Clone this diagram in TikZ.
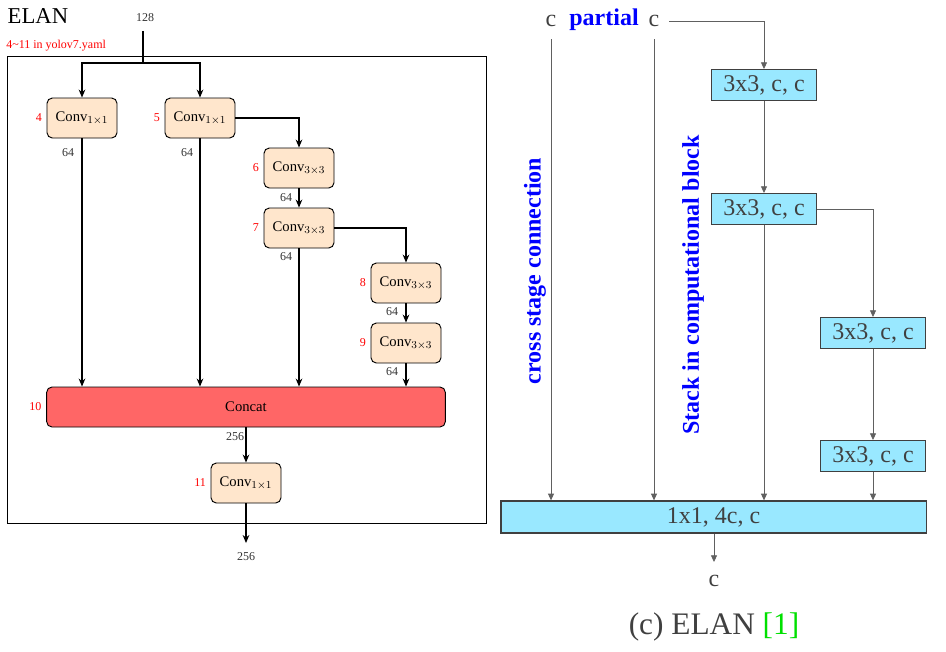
\documentclass[tikz,border=0pt]{standalone}
\usepackage{fontspec}
\setmainfont{Liberation Serif}
\usepackage{xcolor}
\usetikzlibrary{arrows.meta}
\definecolor{peach}{HTML}{FFE6CC}
\definecolor{concatred}{HTML}{FF6666}
\definecolor{cyanbox}{HTML}{99E8FF}
\definecolor{linegray}{HTML}{606060}
\definecolor{capgray}{HTML}{404040}
\definecolor{refgreen}{HTML}{00E000}
\begin{document}
\begin{tikzpicture}
  [x=0.75pt,y=-0.75pt,
   conv/.style={draw,rounded corners=4pt,fill=peach,minimum width=52.5pt,minimum height=30pt,font=\fontsize{11}{13}\selectfont,line width=0.7pt},
   lay/.style={text=red,font=\fontsize{9}{11}\selectfont},
   ch/.style={font=\fontsize{9}{11}\selectfont,text=black!80},
   larr/.style={-{Stealth[length=6pt,width=5pt]},line width=0.8pt},
   cbox/.style={draw=capgray,fill=cyanbox,line width=1pt,minimum width=79pt,minimum height=23pt,inner sep=0pt,font=\fontsize{18}{20}\selectfont,text=capgray},
   rarr/.style={-{Triangle[length=5pt,width=4.5pt]},draw=linegray,line width=0.6pt},
   blue label/.style={text=blue,font=\fontsize{18}{20}\selectfont\bfseries}]
  \useasboundingbox (0,0) rectangle (946,651);

  % left: ELAN in yolov7
  \node[anchor=west,font=\fontsize{17}{19}\selectfont] (title) at (3,16) {ELAN};
  \node[ch] (in) at (145,18) {128};
  \node[anchor=west,text=red,font=\fontsize{9}{11}\selectfont,inner sep=0pt] (yaml) at (6,46) {4\textasciitilde11 in yolov7.yaml};
  \draw[line width=0.6pt] (7,56) rectangle (486,523);

  \node[conv,label={[lay]left:4}] (4) at (82,118) {Conv$_{1\times1}$};
  \node[conv,label={[lay]left:5}] (5) at (200,118) {Conv$_{1\times1}$};
  \node[conv,label={[lay]left:6}] (6) at (299,168) {Conv$_{3\times3}$};
  \node[conv,label={[lay]left:7}] (7) at (299,228) {Conv$_{3\times3}$};
  \node[conv,label={[lay]left:8}] (8) at (406,283) {Conv$_{3\times3}$};
  \node[conv,label={[lay]left:9}] (9) at (406,343) {Conv$_{3\times3}$};
  \node[conv,fill=concatred,minimum width=299pt,label={[lay]left:10}] (10) at (246,407) {Concat};
  \node[conv,label={[lay]left:11}] (11) at (246,483) {Conv$_{1\times1}$};

  \node[ch] at (68,153) {64};
  \node[ch] at (187,153) {64};
  \node[ch] at (286,198) {64};
  \node[ch] at (286,257) {64};
  \node[ch] at (392,312) {64};
  \node[ch] at (392,372) {64};
  \node[ch] at (235,437) {256};

  \coordinate (split) at (143,63);
  \coordinate (out) at (246,543);
  \node[ch] (outlbl) at (246,557) {256};

  \draw[line width=0.8pt,shorten <=3pt] (split |- in.south) -- (split);
  \draw[larr] (split) -| (4.north);
  \draw[larr] (split) -| (5.north);
  \draw[larr] (5.east) -| (6.north);
  \draw[larr] (7.east) -| (8.north);
  \foreach \from/\to in {6/7,8/9,10/11}
    \draw[larr] (\from) -- (\to);
  \foreach \from in {4,5,7,9}
    \draw[larr] (\from.south) -- (\from.south |- 10.north);
  \draw[larr] (11) -- (out);

  % right: ELAN from the paper
  \node[font=\fontsize{18}{20}\selectfont,text=capgray] (cl) at (551,21) {c};
  \node[blue label] (part) at (604,20) {partial};
  \node[font=\fontsize{18}{20}\selectfont,text=capgray] (cr) at (654,21) {c};

  \node[cbox] (p1) at (764,85) {3x3, c, c};
  \node[cbox] (p2) at (764,209) {3x3, c, c};
  \node[cbox] (p3) at (873,333) {3x3, c, c};
  \node[cbox] (p4) at (873,456) {3x3, c, c};
  \node[cbox,minimum width=319pt,minimum height=24pt] (trans) at (713.5,517) {1x1, 4c, c};
  \coordinate (tout) at (714,562);
  \node[font=\fontsize{18}{20}\selectfont,text=capgray] (cout) at (714,581) {c};

  \node[blue label,rotate=90] (csc) at (535,271) {cross stage connection};
  \node[blue label,rotate=90] (sic) at (693,285) {Stack in computational block};

  \draw[rarr,shorten <=6pt] (cl.south) -- (cl.south |- trans.north);
  \draw[rarr,shorten <=6pt] (cr.south) -- (cr.south |- trans.north);
  \draw[rarr,shorten <=4pt] (cr.east) -| (p1.north);
  \draw[rarr] (p2.east) -| (p3.north);
  \foreach \from/\to in {p1/p2,p3/p4}
    \draw[rarr] (\from) -- (\to);
  \foreach \from in {p2,p4}
    \draw[rarr] (\from.south) -- (\from.south |- trans.north);
  \draw[rarr] (trans.south -| tout) -- (tout);

  \node[font=\fontsize{23.5}{26}\selectfont,text=capgray] (cap) at (714,627) {(c) ELAN \textcolor{refgreen}{[1]}};
\end{tikzpicture}
\end{document}
